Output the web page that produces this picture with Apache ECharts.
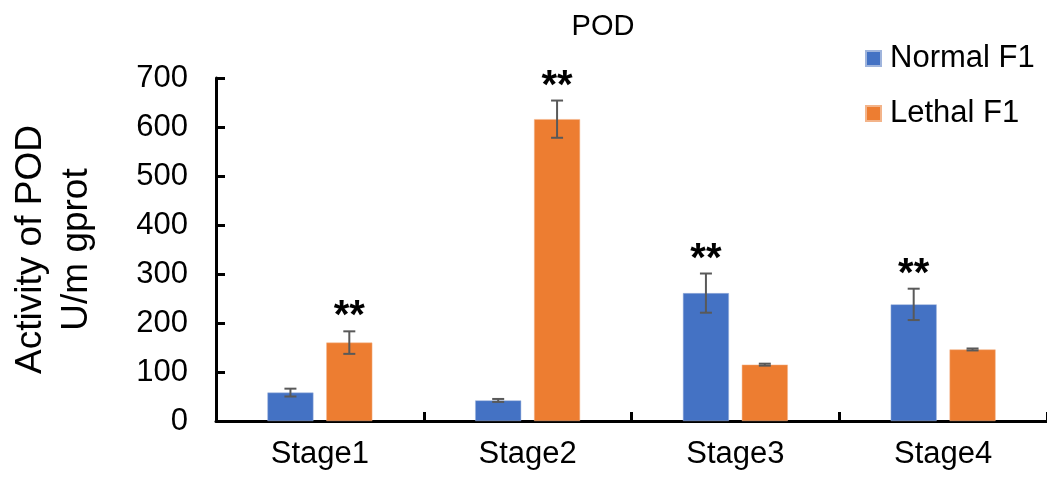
<!DOCTYPE html>
<html>
<head>
<meta charset="utf-8">
<script src="https://cdn.jsdelivr.net/npm/echarts@6/dist/echarts.min.js"></script>
<style>
  html, body { margin: 0; padding: 0; background: #fff; }
  #chart { width: 1047px; height: 484px; }
</style>
</head>
<body>
<div id="chart"></div>
<script>
// POD activity by developmental stage
const categories = ['Stage1', 'Stage2', 'Stage3', 'Stage4'];
const normalF1 = [58, 42, 261, 238];
const lethalF1 = [160, 616, 115, 146];
const normalErr = [8, 3, 40, 32];
const lethalErr = [23, 38, 2, 2];
// significance marks drawn above the error bar of the listed series
const normalSig = ['', '', '**', '**'];
const lethalSig = ['**', '**', '', ''];
const yTicks = [0, 100, 200, 300, 400, 500, 600, 700];

const FONT = 'Liberation Sans, Arial, sans-serif';
const BAR_W = 46;
const BAR_GAP = 0.28;
const OFFSET = (BAR_W * (1 + BAR_GAP)) / 2;

function errorSeries(name, values, errs, sig, side) {
  return {
    type: 'custom',
    name: name + ' err',
    silent: true,
    z: 5,
    data: values.map((v, i) => [i, v, errs[i], sig[i]]),
    renderItem: function (params, api) {
      const i = api.value(0);
      const v = api.value(1);
      const e = api.value(2);
      const top = api.coord([i, v + e]);
      const bot = api.coord([i, v - e]);
      const x = top[0] + side * OFFSET;
      const hw = 6;
      const style = { stroke: '#595959', lineWidth: 2 };
      const children = [
        { type: 'line', shape: { x1: x, y1: top[1], x2: x, y2: bot[1] }, style: style },
        { type: 'line', shape: { x1: x - hw, y1: top[1], x2: x + hw, y2: top[1] }, style: style },
        { type: 'line', shape: { x1: x - hw, y1: bot[1], x2: x + hw, y2: bot[1] }, style: style }
      ];
      const mark = sig[i];
      if (mark) {
        children.push({
          type: 'text',
          style: {
            text: mark, x: x, y: top[1] - 14,
            textAlign: 'center', textVerticalAlign: 'middle',
            fill: '#000', font: 'bold 40px ' + FONT
          }
        });
      }
      return { type: 'group', children: children };
    }
  };
}

const chart = echarts.init(document.getElementById('chart'));
chart.setOption({
  animation: false,
  backgroundColor: '#fff',
  title: {
    text: 'POD',
    left: 598,
    top: 7,
    textAlign: 'center',
    textStyle: { fontFamily: FONT, fontSize: 29, fontWeight: 'normal', color: '#000' }
  },
  legend: {
    orient: 'vertical',
    left: 860,
    top: 38,
    itemWidth: 15,
    itemHeight: 15,
    itemGap: 24,
    icon: 'rect',
    data: ['Normal F1', 'Lethal F1'],
    textStyle: { fontFamily: FONT, fontSize: 31, color: '#000', padding: [0, 0, 0, 4] }
  },
  grid: { left: 216, right: 0, top: 78, bottom: 63, containLabel: false, outerBoundsMode: 'none' },
  xAxis: {
    type: 'category',
    data: categories,
    axisLine: { lineStyle: { color: '#000', width: 3 } },
    axisTick: { show: true, inside: true, length: 9, lineStyle: { color: '#000', width: 3 } },
    axisLabel: { fontFamily: FONT, fontSize: 31, color: '#000', margin: 18 }
  },
  yAxis: {
    type: 'value',
    min: yTicks[0],
    max: yTicks[yTicks.length - 1],
    interval: yTicks[1] - yTicks[0],
    name: 'Activity of POD\nU/m gprot',
    nameLocation: 'middle',
    nameRotate: 90,
    nameGap: 116,
    nameTextStyle: { fontFamily: FONT, fontSize: 37, color: '#000', lineHeight: 46 },
    axisLine: { show: true, lineStyle: { color: '#000', width: 3 } },
    axisTick: { show: true, inside: true, length: 9, lineStyle: { color: '#000', width: 3 } },
    splitLine: { show: false },
    axisLabel: { fontFamily: FONT, fontSize: 31, color: '#000', margin: 28 }
  },
  series: [
    {
      name: 'Normal F1', type: 'bar', data: normalF1,
      barWidth: BAR_W, barGap: (BAR_GAP * 100) + '%',
      itemStyle: { color: '#4472C4', borderColor: '#9fb4dc', borderWidth: 0.5 }
    },
    {
      name: 'Lethal F1', type: 'bar', data: lethalF1,
      barWidth: BAR_W, barGap: (BAR_GAP * 100) + '%',
      itemStyle: { color: '#ED7D31', borderColor: '#f3b48a', borderWidth: 0.5 }
    },
    errorSeries('Normal F1', normalF1, normalErr, normalSig, -1),
    errorSeries('Lethal F1', lethalF1, lethalErr, lethalSig, 1)
  ]
});
</script>
</body>
</html>
